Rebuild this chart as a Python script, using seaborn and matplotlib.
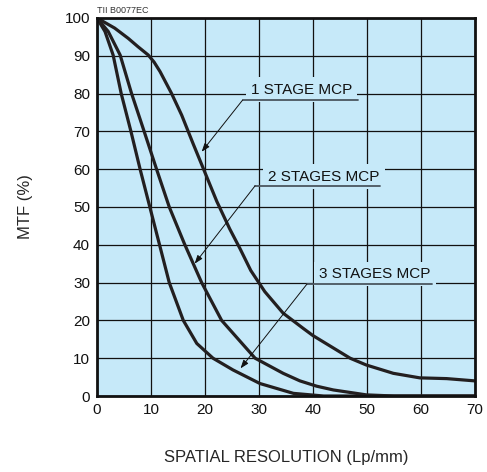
import matplotlib
matplotlib.use("Agg")
import matplotlib.pyplot as plt
import seaborn as sns
import pandas as pd

# values (spatial resolution in Lp/mm, MTF in %)
stage1_x = [0, 3.3, 5.8, 7.6, 9.5, 10.6, 11.7, 13.8, 15.7, 17.8, 19.7, 22.2, 24.6, 26.5,
            28.5, 31.1, 34.5, 38.2, 40, 46.9, 49.9, 54.9, 59.8, 64.8, 70]
stage1_y = [100, 97.3, 94.6, 92.4, 90.2, 88.3, 85.8, 80.1, 74.3, 66.8, 60.2, 51.5, 44.2, 39,
            33.2, 27.6, 21.9, 17.9, 16.0, 10, 8.2, 6, 4.8, 4.6, 4.0]

stage2_x = [0, 2.1, 4.3, 6.4, 8.7, 11.0, 13.4, 16.2, 19.4, 23.1, 29.3,
            34.5, 37.6, 40.7, 43.8, 49.9, 55, 70]
stage2_y = [100, 96.4, 90.2, 80.1, 70.2, 60.2, 50, 40.3, 30, 20, 10,
            6.0, 4.0, 2.6, 1.6, 0.3, 0, 0]

stage3_x = [0, 1.5, 3.0, 4.5, 6.3, 8.0, 9.8, 11.6, 13.4, 16, 18.5, 21.5, 25.2,
            30.2, 36.4, 42, 50, 70]
stage3_y = [100, 96.4, 90.2, 80, 70, 60, 50, 40, 30, 20, 13.9, 10, 6.9,
            3.3, 0.7, 0, 0, 0]

labels = ["1 STAGE MCP", "2 STAGES MCP", "3 STAGES MCP"]
x_ticks = [0, 10, 20, 30, 40, 50, 60, 70]
y_ticks = [0, 10, 20, 30, 40, 50, 60, 70, 80, 90, 100]

bg = "#c6e9f9"
sns.set_style("white", {"axes.facecolor": bg})
plt.rcParams["font.family"] = ["Liberation Sans", "DejaVu Sans"]

frames = []
for name, xs, ys in zip(labels, [stage1_x, stage2_x, stage3_x], [stage1_y, stage2_y, stage3_y]):
    frames.append(pd.DataFrame({"res": xs, "mtf": ys, "curve": name}))
data = pd.concat(frames)

fig = plt.figure(figsize=(4.87, 4.72), dpi=100)
ax = fig.add_axes([0.199, 0.161, 0.776, 0.801])

sns.lineplot(
    data,
    x="res",
    y="mtf",
    hue="curve",
    palette=["#231f20"] * 3,
    linewidth=2.3,
    legend=False,
    sort=False,
    solid_joinstyle="round",
    ax=ax,
    zorder=4,
)

ax.set_xlim(0, 70)
ax.set_ylim(0, 100)
ax.set_xticks(x_ticks)
ax.set_yticks(y_ticks)
ax.set_axisbelow(True)
ax.grid(True, color="#111111", linewidth=0.9)
ax.tick_params(length=0, labelsize=11, pad=5, colors="#111111")
for s in ax.spines.values():
    s.set_linewidth(2.0)
    s.set_color("#111111")
    s.set_zorder(5)

ax.set_xlabel("SPATIAL RESOLUTION (Lp/mm)", fontsize=12, labelpad=24)
ax.set_ylabel("MTF (%)", fontsize=12, labelpad=23)
ax.text(0.0, 1.008, "TII B0077EC", transform=ax.transAxes, fontsize=6.5,
        color="#333333", ha="left", va="bottom")

# callouts: text position, underline span, arrow tip
callouts = [
    ((37.9, 81.0), (27.0, 48.3, 78.3), (19.4, 64.6)),
    ((42.0, 58.0), (29.3, 52.4, 55.6), (18.1, 35.0)),
    ((51.5, 32.3), (38.9, 62.0, 29.6), (26.6, 7.3)),
]
for name, (tpos, (ux0, ux1, uy), tip) in zip(labels, callouts):
    ax.text(tpos[0], tpos[1], name, fontsize=11, ha="center", va="center",
            color="#111111", zorder=6,
            bbox=dict(boxstyle="square,pad=0.35", facecolor=bg, edgecolor="none"))
    ax.plot([ux0, ux1], [uy, uy], color="#4b5660", linewidth=1.3, zorder=7)
    ax.annotate("", xy=tip, xytext=(ux0, uy), zorder=7,
                arrowprops=dict(arrowstyle="-|>,head_length=0.5,head_width=0.18",
                                color="#111111", linewidth=0.7, shrinkA=0, shrinkB=0))

fig.savefig("out.png", dpi=100)
